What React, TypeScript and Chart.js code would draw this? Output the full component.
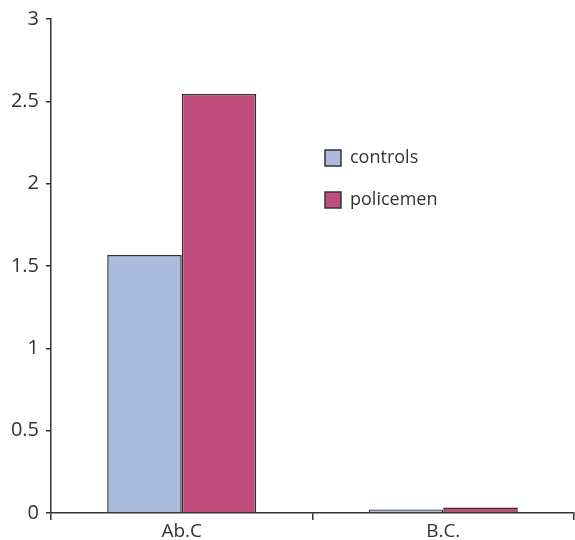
import React, { useEffect, useRef } from "react";
import { Chart, registerables } from "chart.js";

Chart.register(...registerables);

const categories = ["Ab.C", "B.C."];
const controls = [1.567, 0.022];
const policemen = [2.545, 0.033];
const yTicks = [0, 0.5, 1, 1.5, 2, 2.5, 3];
const seriesNames = ["controls", "policemen"];

const TEXT = "#333333";
const FONT = "'Open Sans', 'Noto Sans', sans-serif";

const legendPlacer = {
  id: "legendPlacer",
  afterLayout(chart: any) {
    const lg = chart.legend;
    if (!lg) return;
    const w = lg.width;
    const h = lg.height;
    lg.left = 301;
    lg.top = 125;
    lg.right = lg.left + w;
    lg.bottom = lg.top + h;
  },
};

export default function App() {
  const ref = useRef<HTMLCanvasElement | null>(null);

  useEffect(() => {
    if (!ref.current) return;
    const chart = new Chart(ref.current, {
      type: "bar",
      data: {
        labels: categories,
        datasets: [
          {
            label: seriesNames[0],
            data: controls,
            backgroundColor: "rgb(171,187,222)",
            borderColor: "#333333",
            borderWidth: 1.5,
            categoryPercentage: 0.57,
            barPercentage: 1.0,
          },
          {
            label: seriesNames[1],
            data: policemen,
            backgroundColor: "rgb(192,78,125)",
            borderColor: "#333333",
            borderWidth: 1.5,
            categoryPercentage: 0.57,
            barPercentage: 1.0,
          },
        ],
      },
      options: {
        animation: false,
        responsive: true,
        maintainAspectRatio: false,
        layout: { padding: { top: 17, right: 1, bottom: 0, left: 0 } },
        plugins: {
          legend: {
            position: "chartArea" as any,
            align: "start",
            labels: {
              boxWidth: 16,
              boxHeight: 16,
              padding: 24,
              color: TEXT,
              font: { family: FONT, size: 18 },
            },
          },
          tooltip: { enabled: false },
        },
        scales: {
          x: {
            offset: true,
            grid: {
              offset: true,
              drawOnChartArea: false,
              drawTicks: true,
              tickLength: 7,
              color: "#333333",
              lineWidth: 1.5,
            },
            border: { display: true, color: "#333333", width: 1.5 },
            ticks: {
              color: TEXT,
              font: { family: FONT, size: 19 },
              padding: 0,
            },
            afterFit(scale: any) {
              scale.height = 27;
            },
          },
          y: {
            min: 0,
            max: 3,
            afterBuildTicks(scale: any) {
              scale.ticks = yTicks.map((v) => ({ value: v }));
            },
            grid: {
              drawOnChartArea: false,
              drawTicks: true,
              tickLength: 5,
              color: "#333333",
              lineWidth: 1.5,
            },
            border: { display: true, color: "#333333", width: 1.5 },
            ticks: {
              color: TEXT,
              font: { family: FONT, size: 20 },
              padding: 7,
              callback: (v: any) => String(v),
            },
            afterFit(scale: any) {
              scale.width = 51;
            },
          },
        },
      },
      plugins: [legendPlacer],
    });
    return () => chart.destroy();
  }, []);

  return (
    <div style={{ position: "absolute", left: 0, top: 0, width: 575, height: 540, background: "#fff" }}>
      <canvas ref={ref} />
    </div>
  );
}
